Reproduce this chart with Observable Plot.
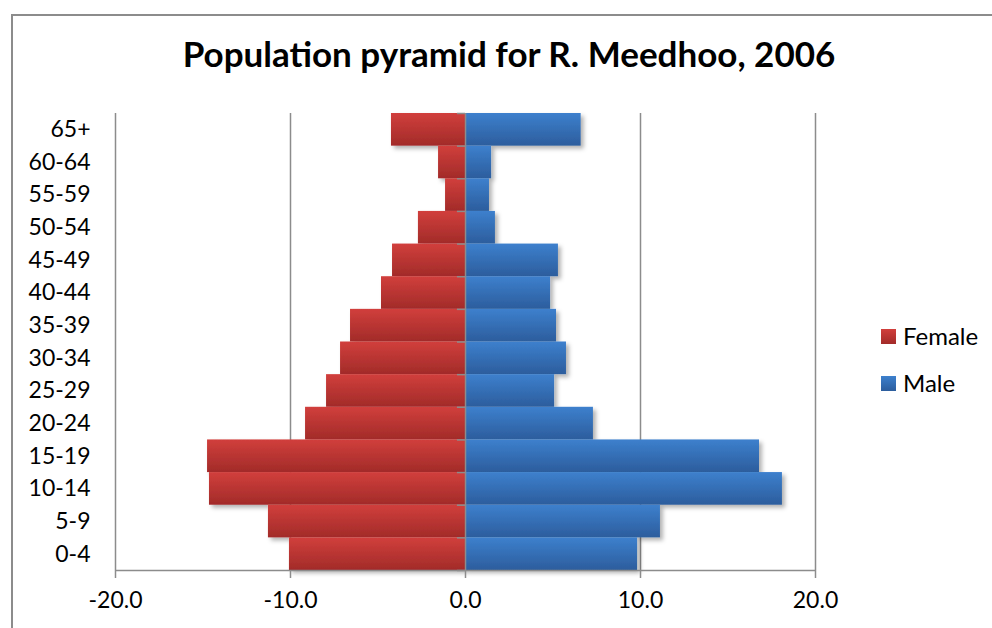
<!DOCTYPE html>
<html>
<head>
<meta charset="utf-8">
<script src="https://cdn.jsdelivr.net/npm/d3@7"></script>
<script src="https://cdn.jsdelivr.net/npm/@observablehq/plot@0.6"></script>
<style>
  body { margin: 0; background: #fff; }
  #chart { position: relative; width: 992px; height: 628px; overflow: hidden; font-family: Lato, "Noto Sans", sans-serif; color: #000; }
  #chart .frame { position: absolute; left: 11px; top: 14px; width: 1200px; height: 900px; border: 2px solid #8c8c8c; box-sizing: border-box; }
  #chart .title { position: absolute; left: 509px; top: 36px; transform: translateX(-50%); white-space: nowrap; font-weight: 700; font-size: 35px; line-height: 35px; }
  #chart svg { position: absolute; left: 0; top: 0; }
  #chart .legend { position: absolute; left: 881px; top: 322px; font-size: 24px; line-height: 24px; }
  #chart .legend .item { display: flex; align-items: center; height: 28px; margin-bottom: 19px; }
  #chart .legend .swatch { width: 15px; height: 15px; margin-right: 7px; }
</style>
</head>
<body>
<div id="chart">
  <div class="frame"></div>
  <div class="title">Population pyramid for R. Meedhoo, 2006</div>
</div>
<script>
// Age groups, listed top to bottom
const ageGroups = ["65+", "60-64", "55-59", "50-54", "45-49", "40-44", "35-39", "30-34", "25-29", "20-24", "15-19", "10-14", "5-9", "0-4"];
// Share of population (%), females drawn to the left as negative values
const female = [-4.23, -1.54, -1.14, -2.69, -4.17, -4.80, -6.57, -7.14, -7.94, -9.14, -14.74, -14.63, -11.26, -10.06];
const male = [6.61, 1.49, 1.37, 1.71, 5.31, 4.86, 5.20, 5.77, 5.09, 7.31, 16.80, 18.11, 11.14, 9.83];
const xTicks = [-20, -10, 0, 10, 20];
const seriesNames = ["Female", "Male"];

const femaleRows = ageGroups.map((age, i) => ({age, value: female[i]}));
const maleRows = ageGroups.map((age, i) => ({age, value: male[i]}));

const gradients = {
  Female: ["#d13f3c", "#a22b29"],
  Male: ["#3d80cd", "#2c5d9d"]
};

const margin = {top: 113, right: 177, bottom: 58, left: 115};
const W = 992, H = 628;
const bandwidth = (H - margin.top - margin.bottom) / ageGroups.length;
const grid = "#8c8c8c";
// one decimal, with a plain hyphen for negatives
const fmt = d => d.toFixed(1);

// Gradient fills and the soft drop shadow under the bars
function defs() {
  const d = d3.create("svg:defs");
  for (const name of seriesNames) {
    const g = d.append("linearGradient").attr("id", "grad-" + name).attr("x1", 0).attr("y1", 0).attr("x2", 0).attr("y2", 1);
    g.append("stop").attr("offset", "0%").attr("stop-color", gradients[name][0]);
    g.append("stop").attr("offset", "100%").attr("stop-color", gradients[name][1]);
  }
  const f = d.append("filter").attr("id", "bar-shadow").attr("x", "-10%").attr("y", "-20%").attr("width", "130%").attr("height", "160%");
  f.append("feDropShadow").attr("dx", 3).attr("dy", 3).attr("stdDeviation", 2).attr("flood-color", "#000").attr("flood-opacity", 0.3);
  return d.node();
}

const chart = Plot.plot({
  width: W,
  height: H,
  marginTop: margin.top,
  marginRight: margin.right,
  marginBottom: margin.bottom,
  marginLeft: margin.left,
  style: {fontFamily: "Lato, 'Noto Sans', sans-serif", background: "transparent", color: "#000"},
  x: {domain: [-20, 20], ticks: xTicks, tickFormat: fmt},
  y: {domain: ageGroups, padding: 0, round: false},
  marks: [
    defs,
    Plot.ruleX(xTicks.filter(d => d !== 0), {stroke: grid, strokeWidth: 1.5}),
    Plot.barX(femaleRows, {x: "value", y: "age", fill: "url(#grad-Female)", inset: 0}),
    Plot.barX(maleRows, {x: "value", y: "age", fill: "url(#grad-Male)", inset: 0}),
    Plot.ruleX([0], {stroke: grid, strokeWidth: 1.5}),
    // category tick marks on the zero axis
    Plot.ruleY(ageGroups, {y: d => d, x1: -0.46, x2: 0, dy: -bandwidth / 2, stroke: grid, strokeWidth: 1.5}),
    Plot.ruleY(["0-4"], {y: d => d, x1: -0.46, x2: 0, dy: bandwidth / 2, stroke: grid, strokeWidth: 1.5}),
    // bottom axis line
    Plot.ruleY(["0-4"], {y: d => d, x1: -20, x2: 20, dy: bandwidth / 2, stroke: grid, strokeWidth: 1.5}),
    Plot.axisX({ticks: xTicks, tickFormat: fmt, tickSize: 8, tickPadding: 13, fontSize: 23, stroke: grid, strokeWidth: 1.5, strokeOpacity: 1, label: null}),
    Plot.axisY({tickSize: 0, tickPadding: 25, fontSize: 23, label: null})
  ]
});

d3.select(chart).selectAll("g[aria-label='bar']").attr("filter", "url(#bar-shadow)");

const root = document.getElementById("chart");
root.insertBefore(chart, root.querySelector(".title"));

// Legend
const legend = document.createElement("div");
legend.className = "legend";
for (const name of seriesNames) {
  const item = document.createElement("div");
  item.className = "item";
  const sw = document.createElement("div");
  sw.className = "swatch";
  sw.style.background = `linear-gradient(${gradients[name][0]}, ${gradients[name][1]})`;
  const label = document.createElement("span");
  label.textContent = name;
  item.append(sw, label);
  legend.append(item);
}
root.append(legend);
</script>
</body>
</html>
